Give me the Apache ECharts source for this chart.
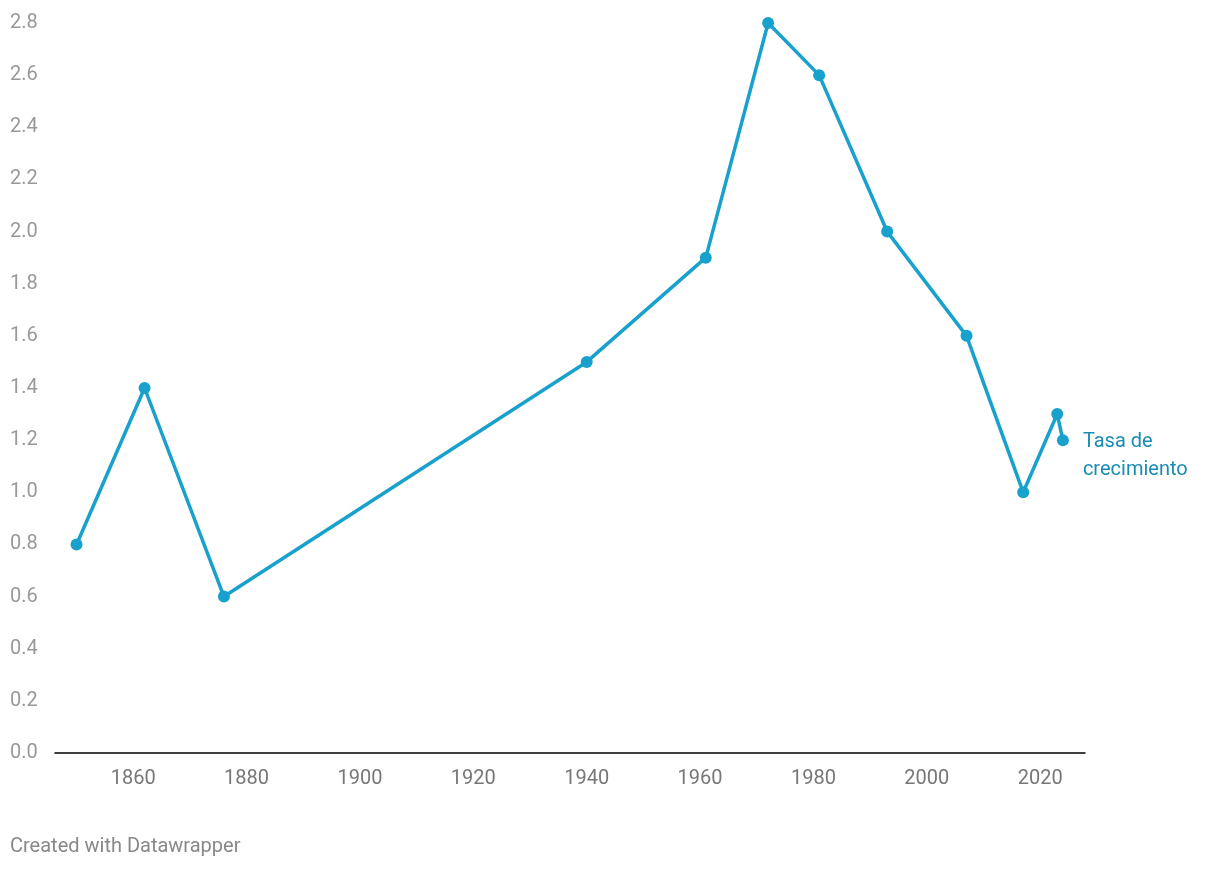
<!DOCTYPE html>
<html>
<head>
<meta charset="utf-8">
<script src="https://cdn.jsdelivr.net/npm/echarts@6/dist/echarts.min.js"></script>
<style>
  html, body { margin: 0; padding: 0; background: #fff; }
  #chart { width: 1220px; height: 870px; }
</style>
</head>
<body>
<div id="chart"></div>
<script>
// años de censo y tasa de crecimiento
var years = [1850, 1862, 1876, 1940, 1961, 1972, 1981, 1993, 2007, 2017, 2023, 2024];
var rates = [0.8, 1.4, 0.6, 1.5, 1.9, 2.8, 2.6, 2.0, 1.6, 1.0, 1.3, 1.2];
var xTicks = [1860, 1880, 1900, 1920, 1940, 1960, 1980, 2000, 2020];
var seriesName = 'Tasa de crecimiento';

var chart = echarts.init(document.getElementById('chart'));

var data = years.map(function (y, i) { return [y, rates[i]]; });

var option = {
  animation: false,
  textStyle: { fontFamily: 'Roboto' },
  grid: { left: 55, right: 135, top: 23, bottom: 117 },
  xAxis: {
    type: 'value',
    min: 1846.2,
    max: 2027.9,
    splitLine: { show: false },
    axisLine: { show: true, onZero: false, lineStyle: { color: '#000', width: 1.5 } },
    axisTick: { show: false },
    axisLabel: {
      customValues: xTicks,
      color: '#777',
      fontSize: 20,
      margin: 16,
      formatter: function (v) { return String(v); }
    }
  },
  yAxis: {
    type: 'value',
    min: 0,
    max: 2.8,
    interval: 0.2,
    splitLine: { show: false },
    axisLine: { show: false },
    axisTick: { show: false },
    axisLabel: {
      color: '#999',
      fontSize: 20,
      align: 'left',
      margin: 45,
      formatter: function (v) { return v.toFixed(1); }
    }
  },
  series: [{
    name: seriesName,
    type: 'line',
    data: data,
    symbol: 'circle',
    symbolSize: 12,
    lineStyle: { color: '#18a1cd', width: 3.5 },
    itemStyle: { color: '#18a1cd' },
    endLabel: {
      show: true,
      formatter: 'Tasa de\ncrecimiento',
      color: '#1a8cb4',
      fontSize: 20,
      lineHeight: 28,
      distance: 20,
      offset: [0, 16],
      align: 'left'
    }
  }],
  graphic: [{
    type: 'text',
    left: 10,
    top: 837,
    style: { text: 'Created with Datawrapper', fill: '#888', fontSize: 20, fontFamily: 'Roboto' }
  }]
};

chart.setOption(option);
</script>
</body>
</html>
